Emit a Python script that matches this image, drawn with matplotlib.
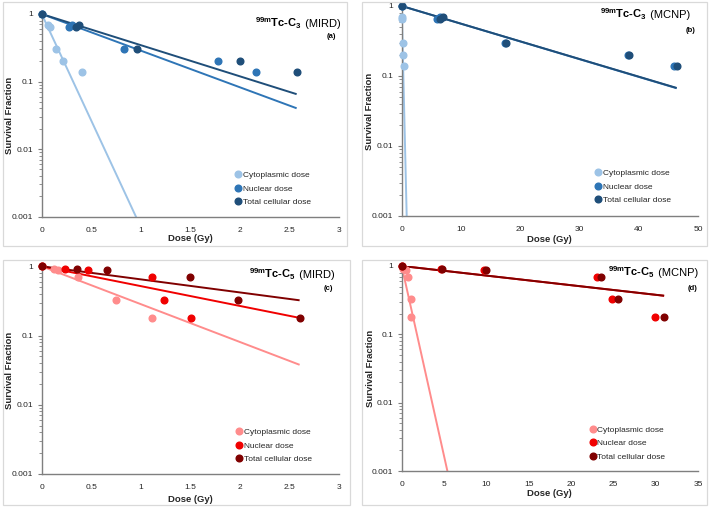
import numpy as np
import matplotlib
matplotlib.use("Agg")
import matplotlib.pyplot as plt
from matplotlib.patches import Rectangle

plt.rcParams['font.family'] = ['Liberation Sans', 'DejaVu Sans']
plt.rcParams['mathtext.fontset'] = 'custom'
plt.rcParams['mathtext.rm'] = 'Liberation Sans'
plt.rcParams['mathtext.bf'] = 'Liberation Sans:bold'
plt.rcParams['mathtext.it'] = 'Liberation Sans:italic'

series_names = ["Cytoplasmic dose", "Nuclear dose", "Total cellular dose"]
blue_colors = ["#9DC3E6", "#2E75B6", "#1F4E79"]
red_colors = ["#FF8C8C", "#F00000", "#800000"]

# Survival fractions (C3 and C5)
sf_c3 = [1.0, 0.69, 0.65, 0.30, 0.20, 0.14]
sf_c5 = [1.0, 0.90, 0.88, 0.70, 0.33, 0.18]

# (a) 99mTc-C3 MIRD doses
a_cyto = [0.0, 0.06, 0.08, 0.14, 0.21, 0.41]
a_nuc = [0.0, 0.31, 0.28, 0.83, 1.78, 2.16]
a_tot = [0.0, 0.38, 0.35, 0.96, 2.00, 2.57]
a_alpha = [7.27, 1.25, 1.063]

# (b) 99mTc-C3 MCNP doses
b_cyto = [0.0, 0.06, 0.08, 0.15, 0.22, 0.43]
b_nuc = [0.0, 6.4, 5.9, 17.5, 38.2, 46.0]
b_tot = [0.0, 6.9, 6.5, 17.6, 38.4, 46.4]
b_alpha = [8.2, 0.0583, 0.0581]

# (c) 99mTc-C5 MIRD doses
c_cyto = [0.0, 0.12, 0.16, 0.37, 0.75, 1.11]
c_nuc = [0.0, 0.23, 0.47, 1.11, 1.23, 1.50]
c_tot = [0.0, 0.36, 0.66, 1.49, 1.98, 2.60]
c_alpha = [1.26, 0.66, 0.435]

# (d) 99mTc-C5 MCNP doses
d_cyto = [0.0, 0.20, 0.47, 0.75, 1.10, 1.15]
d_nuc = [0.0, 4.6, 9.7, 23.1, 24.8, 29.9]
d_tot = [0.0, 4.8, 10.0, 23.5, 25.6, 31.0]
d_alpha = [1.28, 0.0324, 0.0323]

W, H = 709, 507
fig = plt.figure(figsize=(W / 100, H / 100), dpi=100)
renderer = fig.canvas.get_renderer()


def fx(px):
    return px / W


def fy(py):
    return 1 - py / H


# panel frames
for (x0, y0, x1, y1) in [(3, 2, 347, 246), (362, 2, 707, 246),
                         (3, 260, 350, 505), (362, 260, 707, 505)]:
    fig.add_artist(Rectangle((fx(x0), fy(y1)), fx(x1) - fx(x0), fy(y0) - fy(y1),
                             transform=fig.transFigure, fill=False,
                             edgecolor="#D9D9D9", linewidth=0.9))

panels = [
    dict(box=(41.7, 14, 339.3, 216.7), doses=[a_cyto, a_nuc, a_tot], sf=sf_c3,
         alpha=a_alpha, colors=blue_colors, xmax=3, xstep=0.5, xfmt="{:g}",
         comp="3", method="MIRD", tag="(a)", title_xy=(341, 27), tag_xy=(336, 37),
         leg=(238, 176.5), ylab_x=9.3, xlab_y=239),
    dict(box=(401.7, 6, 698, 216), doses=[b_cyto, b_nuc, b_tot], sf=sf_c3,
         alpha=b_alpha, colors=blue_colors, xmax=50, xstep=10, xfmt="{:g}",
         comp="3", method="MCNP", tag="(b)", title_xy=(690, 18), tag_xy=(695, 31),
         leg=(598.3, 174.5), ylab_x=369, xlab_y=240),
    dict(box=(41.7, 266.3, 339.3, 474), doses=[c_cyto, c_nuc, c_tot], sf=sf_c5,
         alpha=c_alpha, colors=red_colors, xmax=3, xstep=0.5, xfmt="{:g}",
         comp="5", method="MIRD", tag="(c)", title_xy=(335, 278), tag_xy=(333, 289),
         leg=(239.3, 433.5), ylab_x=9.3, xlab_y=500),
    dict(box=(401.7, 266, 698, 471), doses=[d_cyto, d_nuc, d_tot], sf=sf_c5,
         alpha=d_alpha, colors=red_colors, xmax=35, xstep=5, xfmt="{:g}",
         comp="5", method="MCNP", tag="(d)", title_xy=(698, 276), tag_xy=(698, 288),
         leg=(592.7, 431), ylab_x=370, xlab_y=494),
]

fs = 6.0
txtc = "#262626"
for p in panels:
    x0, y0, x1, y1 = p["box"]
    ax = fig.add_axes([fx(x0), fy(y1), fx(x1) - fx(x0), fy(y0) - fy(y1)])
    ax.set_yscale("log")
    ax.set_xlim(0, p["xmax"])
    ax.set_ylim(0.001, 1)
    xend = max(p["doses"][2])
    handles = []
    for d, a, col, name in zip(p["doses"], p["alpha"], p["colors"], series_names):
        xl = np.array([0.0, xend])
        ax.plot(xl, np.exp(-a * xl), color=col, lw=1.4, solid_capstyle="butt",
                zorder=2)
    for d, a, col, name in zip(p["doses"], p["alpha"], p["colors"], series_names):
        h, = ax.plot(d, p["sf"], "o", color=col, ms=4.8, mec=col, label=name,
                     zorder=3, clip_on=False)
        handles.append(h)
    for s in ["top", "right"]:
        ax.spines[s].set_visible(False)
    for s in ["left", "bottom"]:
        ax.spines[s].set_color("#7F7F7F")
        ax.spines[s].set_linewidth(1.0)
    ticks = np.arange(0, p["xmax"] + 1e-9, p["xstep"])
    ax.set_xticks(ticks)
    ax.set_xticklabels([p["xfmt"].format(t) for t in ticks])
    ax.set_yticks([0.001, 0.01, 0.1, 1])
    ax.set_yticklabels(["0.001", "0.01", "0.1", "1"])
    ax.tick_params(axis="x", length=0, pad=7.5, labelsize=fs, labelcolor=txtc)
    ax.tick_params(axis="y", which="major", length=3, width=0.8, color="#7F7F7F",
                   pad=3, labelsize=fs, labelcolor=txtc, direction="out")
    ax.tick_params(axis="y", which="minor", length=2, width=0.6, color="#7F7F7F",
                   direction="out")
    ax.yaxis.set_minor_formatter(matplotlib.ticker.NullFormatter())
    ax.set_ylabel("Survival Fraction", fontsize=6.8, fontweight="bold", color=txtc)
    ax.set_xlabel("Dose (Gy)", fontsize=6.8, fontweight="bold", color=txtc)
    axw = x1 - x0
    axh = y1 - y0
    ax.yaxis.set_label_coords((p["ylab_x"] + 4.7 - x0) / axw, 0.5)
    ax.xaxis.set_label_coords(0.5, (y1 - (p["xlab_y"] - 4.7)) / axh)
    # legend
    fpx = fs * 100 / 72
    hl = 0.8
    lx, ly = p["leg"]
    leg = ax.legend(handles=handles, loc="upper left", frameon=False,
                    fontsize=fs, handlelength=hl, handletextpad=0.15,
                    borderpad=0, borderaxespad=0, labelspacing=0.68,
                    bbox_to_anchor=((lx - hl * fpx / 2 - x0) / axw,
                                    (y1 - (ly - 5.2)) / axh))
    for t in leg.get_texts():
        t.set_color(txtc)
    # title: bold compound part + regular method part
    tx, ty = p["title_xy"]
    t2 = fig.text(fx(tx), fy(ty), " (" + p["method"] + ")", ha="right",
                  va="baseline", fontsize=8, color="black")
    bb = t2.get_window_extent(renderer=renderer)
    fig.text(bb.x0 / W, fy(ty), r"$^{\mathbf{99m}}$Tc-C$_{\mathbf{" + p["comp"] + r"}}$",
             ha="right", va="baseline", fontsize=8, fontweight="bold", color="black")
    gx, gy = p["tag_xy"]
    fig.text(fx(gx), fy(gy), p["tag"], ha="right", va="center", fontsize=5.5,
             fontweight="bold", color="black")

fig.savefig("out.png", dpi=100)
